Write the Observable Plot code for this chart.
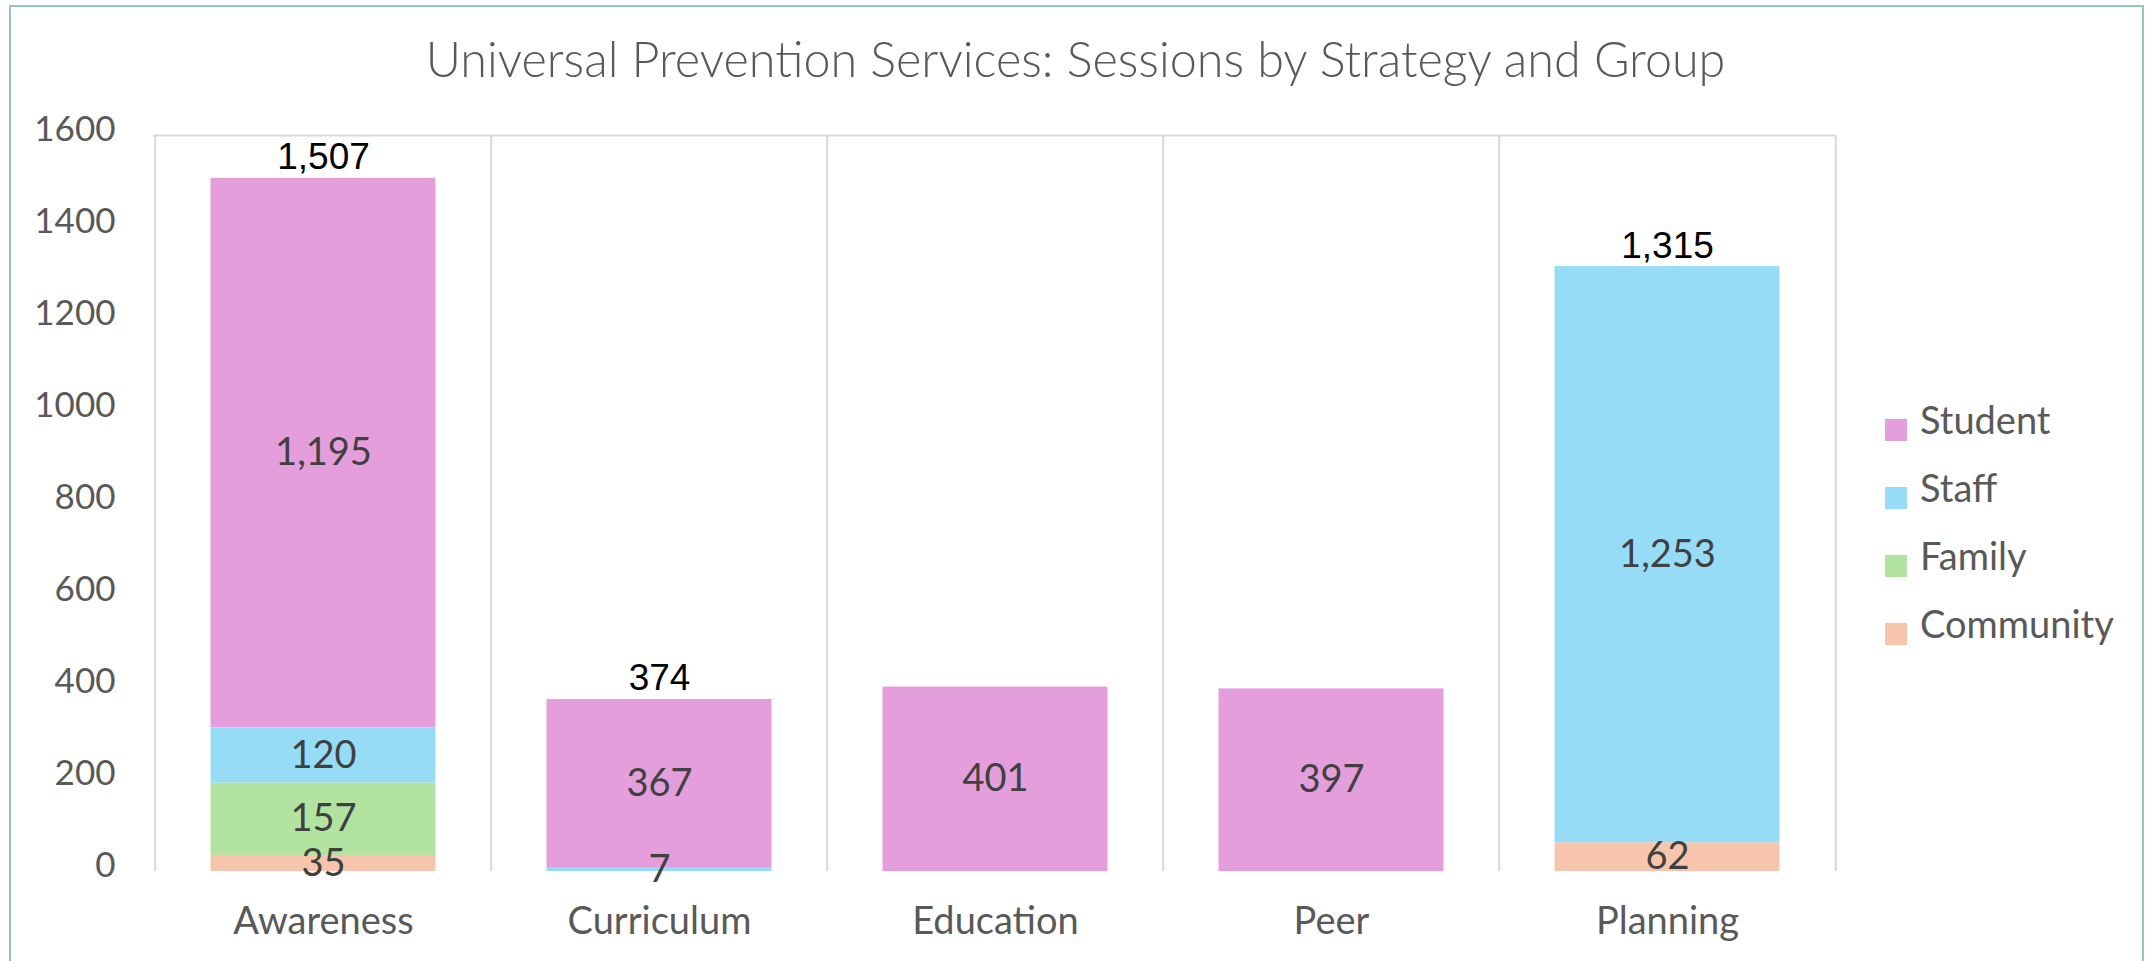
<!DOCTYPE html>
<html>
<head>
<meta charset="utf-8">
<script src="https://cdn.jsdelivr.net/npm/d3@7"></script>
<script src="https://cdn.jsdelivr.net/npm/@observablehq/plot@0.6"></script>
<style>
  html, body { margin: 0; padding: 0; background: #fff; }
  #wrap { position: relative; width: 2151px; height: 961px; overflow: hidden; background: #fff; }
  #frame { position: absolute; left: 9px; top: 5px; width: 2135px; height: 1000px;
           border: 2.5px solid #96C6B9; box-sizing: border-box; pointer-events: none; }
  #title { height: 120px; line-height: 117px; text-align: center; font-family: Lato, sans-serif;
           font-weight: 300; font-size: 48.5px; color: #595959; }
  #legend { position: absolute; left: 1885px; top: 410px; font-family: Lato, sans-serif;
            font-size: 38px; color: #595959; }
  .row { position: relative; height: 68px; }
  .sw { position: absolute; left: 0; top: 9px; width: 22px; height: 22px; }
  .lab { position: absolute; left: 35px; top: -14px; white-space: nowrap; }
</style>
</head>
<body>
<div id="wrap">
  <div id="title">Universal Prevention Services: Sessions by Strategy and Group</div>
  <div id="chart"></div>
  <div id="legend"></div>
  <div id="frame"></div>
</div>
<script>
// ---- data ----
const strategies = ["Awareness", "Curriculum", "Education", "Peer", "Planning"];
const groups = ["Student", "Staff", "Family", "Community"];
const groupColors = ["#E39EDB", "#97DCF7", "#B3E3A1", "#F7C5AC"];
const student = [1195, 367, 401, 397, 0];
const staff = [120, 7, 0, 0, 1253];
const family = [157, 0, 0, 0, 0];
const community = [35, 0, 0, 0, 62];
const totals = [1507, 374, null, null, 1315];
const yTicks = [0, 200, 400, 600, 800, 1000, 1200, 1400, 1600];

// ---- build table ----
const series = {Student: student, Staff: staff, Family: family, Community: community};
const rows = groups.flatMap(g => strategies.map((s, i) => ({strategy: s, group: g, value: series[g][i]})));
const totalRows = strategies.map((s, i) => ({strategy: s, total: totals[i]})).filter(d => d.total != null);
const stackOrder = groups.slice().reverse();
const fmt = d3.format(",");

const W = 2151, H = 841, mL = 153, mR = 315, mT = 15, mB = 90;
const bw = (W - mL - mR) / strategies.length;
const inset = bw * 0.165;
const grid = "#D9D9D9";

const chart = Plot.plot({
  width: W, height: H,
  marginLeft: mL, marginRight: mR, marginTop: mT, marginBottom: mB,
  style: {fontFamily: "Lato, sans-serif", fontSize: "35px", color: "#595959", background: "white", overflow: "visible"},
  x: {domain: strategies, padding: 0, axis: null},
  y: {domain: [0, 1600], axis: null},
  color: {domain: groups, range: groupColors},
  marks: [
    Plot.ruleY([1600], {stroke: grid, strokeWidth: 2}),
    Plot.ruleX(strategies, {x: d => d, dx: -bw / 2, y1: 0, y2: 1600, stroke: grid, strokeWidth: 2}),
    Plot.ruleX(strategies.slice(-1), {x: d => d, dx: bw / 2, y1: 0, y2: 1600, stroke: grid, strokeWidth: 2}),
    Plot.barY(rows, Plot.stackY({x: "strategy", y: "value", fill: "group", z: "group", order: stackOrder,
      insetLeft: inset, insetRight: inset})),
    Plot.text(rows, Plot.stackY({filter: d => d.value > 0, x: "strategy", y: "value", z: "group", order: stackOrder,
      text: d => fmt(d.value), fill: "#404040", fontSize: 38})),
    Plot.text(totalRows, {x: "strategy", y: "total", text: d => fmt(d.total), lineAnchor: "bottom", dy: -9,
      fontFamily: "Liberation Sans, Arial, sans-serif", fontSize: 37, fill: "#000"}),
    Plot.axisY(yTicks, {tickSize: 0, tickPadding: 38, tickFormat: d => String(d), label: null,
      fontSize: 35, dy: -6}),
    Plot.axisX(strategies, {tickSize: 0, tickPadding: 36, label: null, fontSize: 38})
  ]
});
document.getElementById("chart").appendChild(chart);

// ---- legend ----
const leg = d3.select("#legend");
groups.forEach((g, i) => {
  const r = leg.append("div").attr("class", "row");
  r.append("div").attr("class", "sw").style("background", groupColors[i]);
  r.append("div").attr("class", "lab").text(g);
});
</script>
</body>
</html>
